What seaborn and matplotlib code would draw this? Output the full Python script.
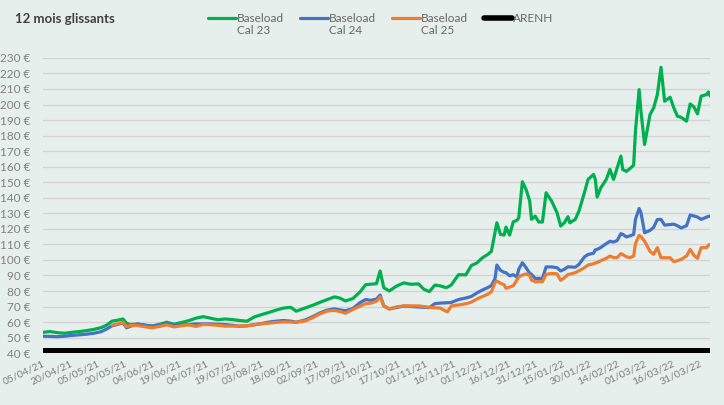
import numpy as np
import pandas as pd
import matplotlib
matplotlib.use("Agg")
import matplotlib.pyplot as plt
import seaborn as sns

# ---------------- data ----------------
start_date = "2021-04-05"
day_offsets = [0, 4, 8, 12, 16, 20, 24, 28, 32, 35, 38, 41, 44, 46, 48, 52, 56, 60, 64, 68,
               72, 76, 80, 84, 88, 92, 96, 100, 104, 108, 112, 116, 120, 124, 128, 132, 136, 139,
               144, 148, 152, 156, 160, 163, 166, 170, 174, 177, 180, 183, 185, 187, 190, 194,
               198, 202, 206, 209, 212, 215, 218, 221, 222, 224, 228, 232, 235, 238, 241, 244,
               246, 248, 249, 251, 253, 254, 256, 258, 260, 261, 263, 265, 267, 268, 270, 272,
               274, 276, 279, 282, 284, 286, 288, 289, 292, 294, 297, 299, 302, 303, 304, 306,
               309, 311, 313, 315, 317, 318, 320, 322, 324, 325, 327, 328, 330, 333, 335, 337,
               339, 341, 344, 346, 348, 350, 353, 355, 357, 359, 361, 364, 365, 366]

cal23 = [53.4, 53.9, 53.2, 52.8, 53.4, 53.9, 54.5, 55.3, 56.4, 58.0, 60.6, 61.2, 62.0, 59.2, 58.4,
         58.6, 58.0, 57.5, 58.5, 59.9, 58.6, 59.7, 60.9, 62.5, 63.5, 62.5, 61.5, 62.0, 61.6, 61.0,
         60.6, 63.3, 64.8, 66.2, 67.7, 69.0, 69.5, 67.0, 69.1, 70.8, 72.7, 74.5, 76.2, 75.4, 73.6,
         75.1, 79.4, 84.0, 84.4, 84.7, 92.9, 82.1, 80.0, 83.2, 85.2, 84.3, 84.6, 81.1, 79.6, 83.8,
         83.3, 82.2, 82.5, 83.9, 90.5, 90.4, 96.4, 98.0, 101.3, 103.5, 105.5, 118.0, 123.9, 116.4,
         116.0, 121.1, 116.0, 124.5, 125.5, 127.1, 150.3, 145.4, 138.0, 126.1, 128.2, 124.4, 124.4,
         143.2, 137.9, 130.4, 121.8, 123.9, 127.8, 123.9, 126.1, 131.4, 143.2, 151.8, 155.0, 151.8,
         140.5, 146.4, 151.8, 158.2, 151.8, 159.3, 166.8, 158.2, 157.0, 158.8, 161.0, 182.9, 209.6,
         195.7, 174.3, 193.6, 197.9, 206.4, 224.0, 202.1, 204.7, 197.9, 192.5, 191.8, 189.3, 200.4,
         198.5, 194.0, 205.4, 206.4, 208.1, 205.4]

cal24 = [50.9, 50.8, 50.6, 50.9, 51.4, 51.8, 52.2, 52.8, 53.8, 55.5, 57.6, 58.5, 59.5, 56.3, 57.3,
         58.8, 58.0, 57.3, 58.0, 59.1, 57.8, 58.2, 58.4, 58.8, 58.8, 58.8, 58.6, 58.4, 57.9, 57.3,
         57.6, 58.3, 59.0, 60.0, 60.6, 61.0, 60.6, 59.9, 61.4, 63.5, 65.9, 67.7, 68.5, 67.8, 67.3,
         68.7, 72.5, 74.5, 74.0, 74.8, 77.4, 70.4, 68.5, 69.4, 70.3, 70.0, 69.7, 69.5, 69.3, 71.9,
         72.2, 72.4, 72.5, 72.6, 74.5, 75.5, 76.5, 78.7, 80.6, 82.2, 83.5, 88.0, 96.7, 93.3, 92.0,
         91.8, 89.8, 90.5, 89.0, 94.0, 98.2, 95.0, 91.5, 90.7, 88.1, 88.1, 88.1, 95.5, 95.5, 95.0,
         92.9, 94.0, 95.6, 95.5, 95.3, 97.1, 101.9, 103.5, 104.3, 106.5, 106.8, 108.0, 110.5, 112.0,
         111.5, 112.5, 116.9, 116.5, 114.8, 115.5, 116.4, 126.1, 133.1, 130.5, 117.5, 119.0, 121.0,
         126.0, 126.1, 122.4, 122.8, 123.0, 122.0, 120.6, 122.0, 128.9, 128.3, 127.6, 126.1, 127.5,
         128.0, 128.2]

cal25 = [np.nan, np.nan, np.nan, np.nan, np.nan, np.nan, np.nan, np.nan, np.nan, np.nan, 58.0, 58.8,
         59.9, 57.0, 57.8, 57.8, 57.0, 56.3, 57.2, 58.2, 56.9, 57.6, 58.2, 57.2, 58.5, 58.3, 57.9,
         57.4, 57.4, 57.5, 57.6, 58.3, 58.9, 59.3, 59.8, 60.1, 60.0, 59.9, 60.8, 62.8, 65.3, 67.1,
         67.5, 66.8, 65.7, 68.1, 70.3, 71.8, 72.2, 73.4, 76.1, 70.4, 68.4, 69.8, 70.4, 70.4, 70.4,
         70.0, 69.5, 69.2, 69.0, 67.0, 66.7, 70.4, 71.0, 71.8, 72.8, 74.8, 76.4, 77.9, 79.5, 85.5,
         86.4, 85.0, 84.0, 81.7, 82.5, 83.4, 87.0, 89.0, 90.3, 91.0, 90.0, 87.0, 86.0, 86.0, 86.0,
         90.7, 91.3, 91.0, 86.9, 88.5, 90.7, 90.8, 91.8, 93.0, 95.0, 96.7, 97.5, 98.0, 98.3, 99.5,
         101.0, 102.5, 101.5, 101.5, 104.0, 103.5, 102.0, 101.5, 102.5, 110.4, 115.8, 115.0, 112.0,
         105.5, 103.6, 107.9, 101.4, 101.4, 101.4, 98.9, 99.5, 100.3, 102.5, 106.8, 103.0, 101.0,
         107.9, 107.9, 109.5, 110.0]

arenh_price = 42.0

series_names = ["Baseload\nCal 23", "Baseload\nCal 24", "Baseload\nCal 25", "ARENH"]
series_colors = ["#00B050", "#4472C4", "#ED7D31", "#000000"]
y_ticks = list(range(40, 231, 10))
tick_start, tick_end = "2021-04-05", "2022-03-31"

# ---------------- build table ----------------
dates = pd.to_datetime(start_date) + pd.to_timedelta(day_offsets, unit="D")
df = pd.DataFrame({
    "date": dates,
    series_names[0]: cal23,
    series_names[1]: cal24,
    series_names[2]: cal25,
    series_names[3]: [arenh_price] * len(day_offsets),
})
long = df.melt(id_vars="date", var_name="serie", value_name="prix")

# ---------------- style ----------------
bg = "#E7EFEC"
sns.set_theme(style="white")
plt.rcParams["font.family"] = ["Lato", "DejaVu Sans"]

fig = plt.figure(figsize=(7.24, 4.05), dpi=100, facecolor=bg)
ax = fig.add_axes([0.059, 0.128, 0.922, 0.729])
ax.set_facecolor(bg)

widths = {series_names[0]: 2.3, series_names[1]: 2.3, series_names[2]: 2.3, series_names[3]: 3.6}
for name, col in zip(series_names, series_colors):
    sub = long[long["serie"] == name]
    sns.lineplot(data=sub, x="date", y="prix", color=col, lw=widths[name], ax=ax,
                 label=name, zorder=3 if name != "ARENH" else 4)

ax.set_ylim(40, 230)
ax.set_xlim(dates[0], dates[-1])
ax.set_yticks(y_ticks)
ax.set_yticklabels([f"{v} €" for v in y_ticks], color="#808080", fontsize=8.5)
ax.yaxis.grid(True, color="#D3D3D3", lw=1)
ax.xaxis.grid(False)
for s in ax.spines.values():
    s.set_visible(False)
ax.tick_params(axis="y", length=0, pad=9)
ax.tick_params(axis="x", length=0, pad=4)

xt = pd.date_range(tick_start, tick_end, freq="15D")
ax.set_xticks(xt)
ax.set_xticklabels([d.strftime("%d/%m/%y") for d in xt], rotation=25, ha="right",
                   rotation_mode="anchor", color="#808080", fontsize=7.5)
ax.set_xlabel("")
ax.set_ylabel("")

handles, labels = ax.get_legend_handles_labels()
ax.get_legend().remove()
# second (blank) line for ARENH so that every label starts on the same first line
leg_labels = [lab if "\n" in lab else lab + "\n " for lab in labels]
leg = fig.legend(handles, leg_labels, ncol=4, loc="upper left", bbox_to_anchor=(0.272, 0.995),
                 frameon=False, handlelength=2.4, handletextpad=0.1, columnspacing=1.3,
                 fontsize=8.5, labelcolor="#666666")
# place each legend line next to the first text line
for h, lab in zip(leg.legend_handles, labels):
    h.set_ydata(np.asarray(h.get_ydata()) + 5.0)
    if lab == "ARENH":
        h.set_linewidth(4.0)

fig.text(0.021, 0.952, "12 mois glissants", fontsize=9.5, fontweight="bold", color="#404040",
         va="center")

fig.savefig("out.png", dpi=100, facecolor=bg)
